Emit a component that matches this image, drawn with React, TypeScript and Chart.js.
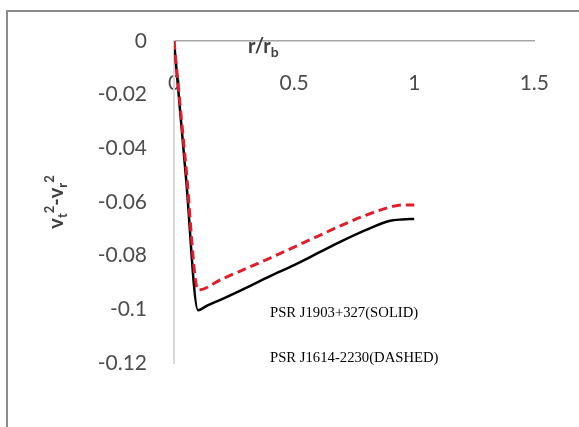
import React, { useEffect, useRef } from 'react';
import { Chart, registerables } from 'chart.js';

Chart.register(...registerables);

// Data
const solidX = [0, 0.05, 0.1, 0.14, 0.2, 0.3, 0.4, 0.5, 0.6, 0.7, 0.8, 0.9, 0.95, 1.0];
const solidY = [0, -0.051, -0.1003, -0.0985, -0.0962, -0.092, -0.0876, -0.0835, -0.079, -0.0745, -0.0704, -0.067, -0.0665, -0.0663];
const dashedX = [0, 0.05, 0.1, 0.2, 0.3, 0.4, 0.5, 0.6, 0.7, 0.8, 0.9, 0.95, 1.0];
const dashedY = [0, -0.047, -0.0928, -0.0887, -0.0848, -0.0809, -0.0768, -0.0727, -0.0686, -0.0649, -0.0619, -0.0611, -0.0611];

const xTicks = [0, 0.5, 1, 1.5];
const xTickLabels = ['0', '0.5', '1', '1.5'];
const yTicks = [0, -0.02, -0.04, -0.06, -0.08, -0.1, -0.12];
const yTickLabels = ['0', '-0.02', '-0.04', '-0.06', '-0.08', '-0.1', '-0.12'];

const annotations = ['PSR J1903+327(SOLID)', 'PSR J1614-2230(DASHED)'];

type Part = { t: string; size: number; dy: number };

function drawRich(ctx: CanvasRenderingContext2D, parts: Part[], x: number, y: number, align: 'left' | 'center', family: string, weight: string) {
  let total = 0;
  const widths = parts.map((p) => {
    ctx.font = `${weight} ${p.size}px ${family}`;
    const w = ctx.measureText(p.t).width;
    total += w;
    return w;
  });
  let cx = align === 'center' ? x - total / 2 : x;
  ctx.textBaseline = 'alphabetic';
  ctx.textAlign = 'left';
  parts.forEach((p, i) => {
    ctx.font = `${weight} ${p.size}px ${family}`;
    ctx.fillText(p.t, cx, y + p.dy);
    cx += widths[i];
  });
}

const textPlugin = {
  id: 'textPlugin',
  afterDraw(chart: any) {
    const ctx: CanvasRenderingContext2D = chart.ctx;
    ctx.save();
    ctx.fillStyle = '#404040';
    drawRich(ctx, [
      { t: 'r/r', size: 20, dy: 0 },
      { t: 'b', size: 14, dy: 4 },
    ], 248, 53, 'left', 'Lato', 'bold');

    ctx.save();
    ctx.translate(63, 202);
    ctx.rotate(-Math.PI / 2);
    drawRich(ctx, [
      { t: 'v', size: 20, dy: 0 },
      { t: 't', size: 13, dy: 4 },
      { t: '2', size: 13, dy: -9 },
      { t: '-v', size: 20, dy: 0 },
      { t: 'r', size: 13, dy: 4 },
      { t: '2', size: 13, dy: -9 },
    ], 0, 0, 'center', 'Lato', 'bold');
    ctx.restore();

    ctx.fillStyle = '#000000';
    ctx.font = '14.7px "Liberation Serif"';
    ctx.textAlign = 'left';
    ctx.textBaseline = 'middle';
    ctx.fillText(annotations[0], 270, 313);
    ctx.fillText(annotations[1], 270, 358);
    ctx.restore();
  },
};

export default function App() {
  const ref = useRef<HTMLCanvasElement>(null);
  useEffect(() => {
    if (!ref.current) return;
    const chart = new Chart(ref.current, {
      type: 'line',
      data: {
        datasets: [
          {
            label: 'PSR J1614-2230',
            data: dashedX.map((x, i) => ({ x, y: dashedY[i] })),
            borderColor: '#e31b2b',
            borderWidth: 3,
            borderDash: [9, 5],
            pointRadius: 0,
            cubicInterpolationMode: 'monotone',
            fill: false,
          },
          {
            label: 'PSR J1903+327',
            data: solidX.map((x, i) => ({ x, y: solidY[i] })),
            borderColor: '#000000',
            borderWidth: 2.5,
            pointRadius: 0,
            cubicInterpolationMode: 'monotone',
            fill: false,
          },
        ],
      },
      options: {
        animation: false,
        responsive: false,
        maintainAspectRatio: false,
        layout: { padding: { left: 0, top: 41, right: 41, bottom: 64 } },
        plugins: { legend: { display: false }, tooltip: { enabled: false }, title: { display: false } },
        scales: {
          x: {
            type: 'linear',
            position: { y: 0 } as any,
            min: 0,
            max: 1.5,
            afterFit: (s: any) => { s.height = 0; },
            afterBuildTicks: (s: any) => { s.ticks = xTicks.map((v) => ({ value: v })); },
            grid: { display: false, drawTicks: false },
            border: { display: true, color: '#a6a6a6', width: 1.5 },
            ticks: {
              padding: 30,
              color: '#4d4d4d',
              font: { family: 'Lato', size: 21 },
              maxRotation: 0,
              callback: (v: any) => xTickLabels[xTicks.indexOf(Number(v))] ?? '',
            },
          },
          y: {
            type: 'linear',
            position: 'left',
            min: -0.12,
            max: 0,
            afterFit: (s: any) => { s.width = 174; },
            afterBuildTicks: (s: any) => { s.ticks = yTicks.map((v) => ({ value: v })); },
            grid: { display: false, drawTicks: false },
            border: { display: true, color: '#d9d9d9', width: 2 },
            ticks: {
              padding: 27,
              color: '#4d4d4d',
              font: { family: 'Lato', size: 21 },
              callback: (v: any) => {
                const idx = yTicks.findIndex((t) => Math.abs(t - Number(v)) < 1e-9);
                return idx >= 0 ? yTickLabels[idx] : '';
              },
            },
          },
        },
      } as any,
      plugins: [textPlugin],
    });
    return () => chart.destroy();
  }, []);

  return (
    <div style={{ position: 'absolute', left: 0, top: 0, width: 579, height: 427, overflow: 'hidden', background: '#fff' }}>
      <div style={{ position: 'absolute', left: 6, top: 10, width: 620, height: 480, border: '2px solid #8c8c8c', boxSizing: 'border-box' }} />
      <canvas ref={ref} width={579} height={427} style={{ position: 'absolute', left: 0, top: 0, width: 579, height: 427 }} />
    </div>
  );
}
